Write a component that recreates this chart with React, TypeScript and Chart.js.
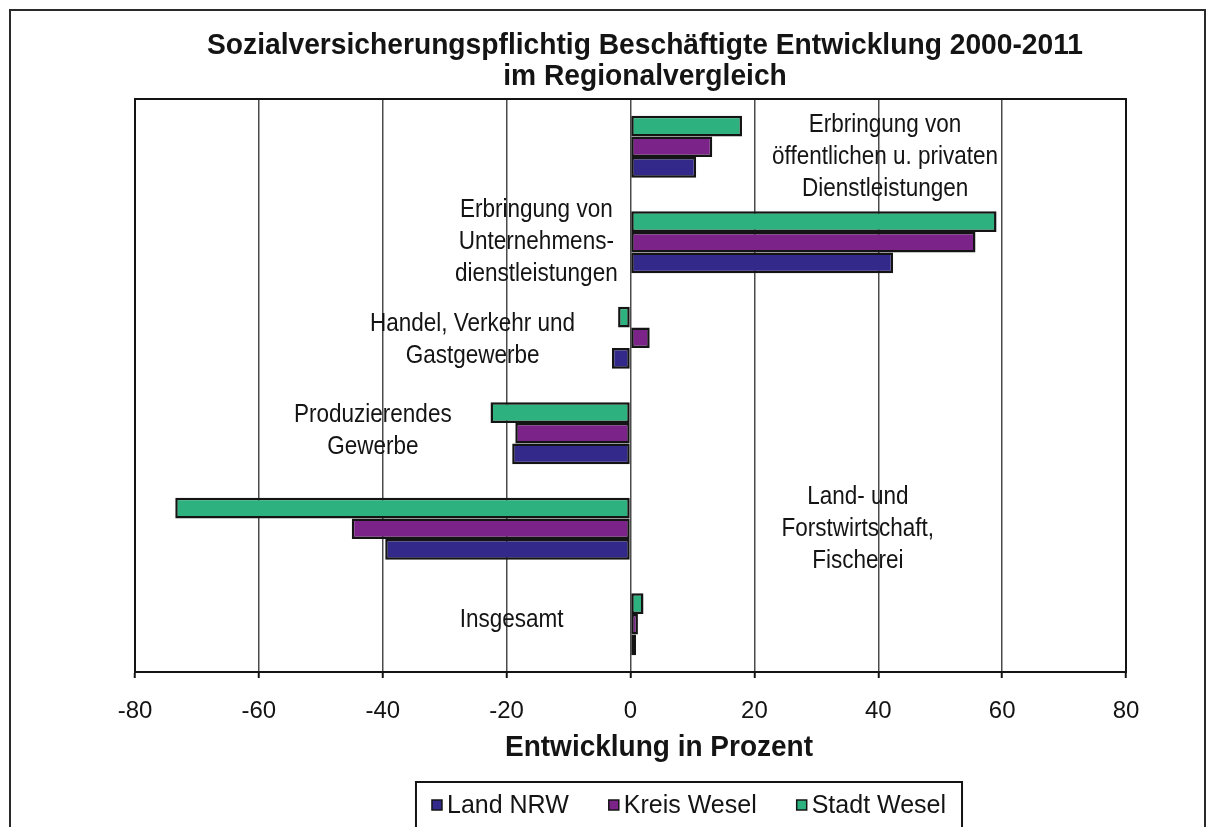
import { useEffect, useRef } from "react";
import { Chart, registerables } from "chart.js";

Chart.register(...registerables);

// ---- data ----
const TITLE_LINES = [
  "Sozialversicherungspflichtig Beschäftigte Entwicklung 2000-2011",
  "im Regionalvergleich",
];
const AXIS_TITLE = "Entwicklung in Prozent";

// Sector names, one entry per line of the in-plot label (top to bottom)
const CATEGORIES: string[][] = [
  ["Erbringung von", "öffentlichen u. privaten", "Dienstleistungen"],
  ["Erbringung von", "Unternehmens-", "dienstleistungen"],
  ["Handel, Verkehr und", "Gastgewerbe"],
  ["Produzierendes", "Gewerbe"],
  ["Land- und", "Forstwirtschaft,", "Fischerei"],
  ["Insgesamt"],
];

// Change 2000-2011 in percent
const LAND_NRW = [10.6, 42.4, -3.0, -19.1, -39.6, 0.9];
const KREIS_WESEL = [13.2, 55.7, 3.1, -18.6, -45.0, 1.2];
const STADT_WESEL = [18.0, 59.1, -2.0, -22.6, -73.5, 2.1];

const X_TICKS = [-80, -60, -40, -20, 0, 20, 40, 60, 80];

// Where each sector label sits: x in percent units, vertical shift in px
const LABEL_X = [41.1, -15.2, -25.5, -41.6, 36.7, -19.2];
const LABEL_DY = [10, 0, 2, -2, 0, -4];

// ---- styling ----
const FONT = '"Liberation Sans", Arial, Helvetica, sans-serif';
const INK = "#141414";
const C_NRW = "#33298a";
const C_KREIS = "#7c2389";
const C_STADT = "#2db27f";

function drawScaled(
  ctx: CanvasRenderingContext2D,
  text: string,
  x: number,
  y: number,
  sx: number,
  align: CanvasTextAlign = "center"
) {
  ctx.save();
  ctx.translate(x, y);
  ctx.scale(sx, 1);
  ctx.textAlign = align;
  ctx.fillText(text, 0, 0);
  ctx.restore();
}

const decorPlugin = {
  id: "decor",
  beforeDraw(chart: any) {
    const ctx: CanvasRenderingContext2D = chart.ctx;
    ctx.save();
    ctx.fillStyle = "#ffffff";
    ctx.fillRect(0, 0, chart.width, chart.height);
    ctx.restore();
  },
  afterDatasetsDraw(chart: any) {
    const ctx: CanvasRenderingContext2D = chart.ctx;
    const xs = chart.scales.x;
    const ys = chart.scales.y;
    ctx.save();
    ctx.fillStyle = INK;
    ctx.textBaseline = "middle";
    ctx.font = `25px ${FONT}`;
    const lineH = 32;
    CATEGORIES.forEach((lines, i) => {
      const cx = xs.getPixelForValue(LABEL_X[i]);
      const cy = ys.getPixelForValue(i) + LABEL_DY[i];
      const y0 = cy - ((lines.length - 1) * lineH) / 2;
      lines.forEach((ln, k) => drawScaled(ctx, ln, cx, y0 + k * lineH, 0.9));
    });
    ctx.restore();
  },
  afterDraw(chart: any) {
    const ctx: CanvasRenderingContext2D = chart.ctx;
    const a = chart.chartArea;
    ctx.save();

    // plot frame
    ctx.strokeStyle = INK;
    ctx.lineWidth = 2;
    ctx.strokeRect(a.left, a.top, a.right - a.left, a.bottom - a.top);

    // outer frame
    ctx.strokeStyle = "#2a2a2a";
    ctx.lineWidth = 2;
    ctx.strokeRect(10, 10, chart.width - 13, chart.height + 10);

    // title
    ctx.fillStyle = INK;
    ctx.textBaseline = "middle";
    ctx.font = `bold 29px ${FONT}`;
    const tW = ctx.measureText(TITLE_LINES[0]).width;
    const tsx = Math.min(1, 876 / tW);
    drawScaled(ctx, TITLE_LINES[0], 645, 46, tsx);
    drawScaled(ctx, TITLE_LINES[1], 645, 77, tsx);

    // axis title
    ctx.font = `bold 29px ${FONT}`;
    const aW = ctx.measureText(AXIS_TITLE).width;
    drawScaled(ctx, AXIS_TITLE, 659, 748, Math.min(1, 308 / aW));

    // legend (listed in reverse dataset order)
    const items = [...chart.data.datasets].reverse();
    ctx.font = `25px ${FONT}`;
    const box = 10;
    const gapMT = 5;
    const gapItem = 40;
    const widths = items.map((d: any) => ctx.measureText(d.label).width);
    const inner =
      widths.reduce((s: number, w: number) => s + box + gapMT + w, 0) +
      gapItem * (items.length - 1);
    const padX = 16;
    const bw = inner + padX * 2;
    const bx = 689 - bw / 2;
    const by = 782;
    ctx.strokeStyle = INK;
    ctx.lineWidth = 2;
    ctx.fillStyle = "#ffffff";
    ctx.fillRect(bx, by, bw, 60);
    ctx.strokeRect(bx, by, bw, 60);
    let x = bx + padX;
    const cy = 805;
    items.forEach((d: any, i: number) => {
      ctx.fillStyle = d.backgroundColor;
      ctx.fillRect(x, cy - box / 2, box, box);
      ctx.lineWidth = 1.5;
      ctx.strokeStyle = INK;
      ctx.strokeRect(x, cy - box / 2, box, box);
      ctx.fillStyle = INK;
      ctx.textAlign = "left";
      ctx.textBaseline = "middle";
      ctx.fillText(d.label, x + box + gapMT, cy + 1);
      x += box + gapMT + widths[i] + gapItem;
    });

    ctx.restore();
  },
};

export default function App() {
  const canvasRef = useRef<HTMLCanvasElement | null>(null);

  useEffect(() => {
    const canvas = canvasRef.current;
    if (!canvas) return;
    const barStyle = {
      borderColor: INK,
      borderWidth: 2.5,
      borderSkipped: false as const,
      categoryPercentage: 0.65,
      barPercentage: 1.0,
    };
    const chart = new Chart(canvas, {
      type: "bar",
      data: {
        labels: CATEGORIES.map((c) => c.join(" ")),
        datasets: [
          { label: "Stadt Wesel", data: STADT_WESEL, backgroundColor: C_STADT, ...barStyle },
          { label: "Kreis Wesel", data: KREIS_WESEL, backgroundColor: C_KREIS, ...barStyle },
          { label: "Land NRW", data: LAND_NRW, backgroundColor: C_NRW, ...barStyle },
        ],
      },
      options: {
        indexAxis: "y",
        responsive: false,
        animation: false,
        devicePixelRatio: 1,
        layout: { padding: { left: 135, right: 82, top: 99, bottom: 0 } },
        plugins: {
          legend: { display: false },
          title: { display: false },
          tooltip: { enabled: false },
        },
        scales: {
          x: {
            type: "linear",
            position: "bottom",
            min: X_TICKS[0],
            max: X_TICKS[X_TICKS.length - 1],
            afterFit(scale: any) {
              scale.height = 155;
            },
            ticks: {
              stepSize: X_TICKS[1] - X_TICKS[0],
              color: INK,
              padding: 19,
              font: { family: FONT, size: 24 },
              maxRotation: 0,
            },
            grid: {
              color: "#4a4a4a",
              lineWidth: 1.5,
              drawTicks: true,
              tickLength: 6,
              tickColor: INK,
              tickWidth: 2,
            },
            border: { display: true, color: INK, width: 2 },
          },
          y: {
            type: "category",
            display: false,
            offset: true,
            grid: { display: false },
          },
        },
      },
      plugins: [decorPlugin],
    } as any);
    return () => chart.destroy();
  }, []);

  return (
    <div style={{ position: "absolute", left: 0, top: 0, width: 1208, height: 827 }}>
      <canvas ref={canvasRef} width={1208} height={827} style={{ display: "block" }} />
    </div>
  );
}
